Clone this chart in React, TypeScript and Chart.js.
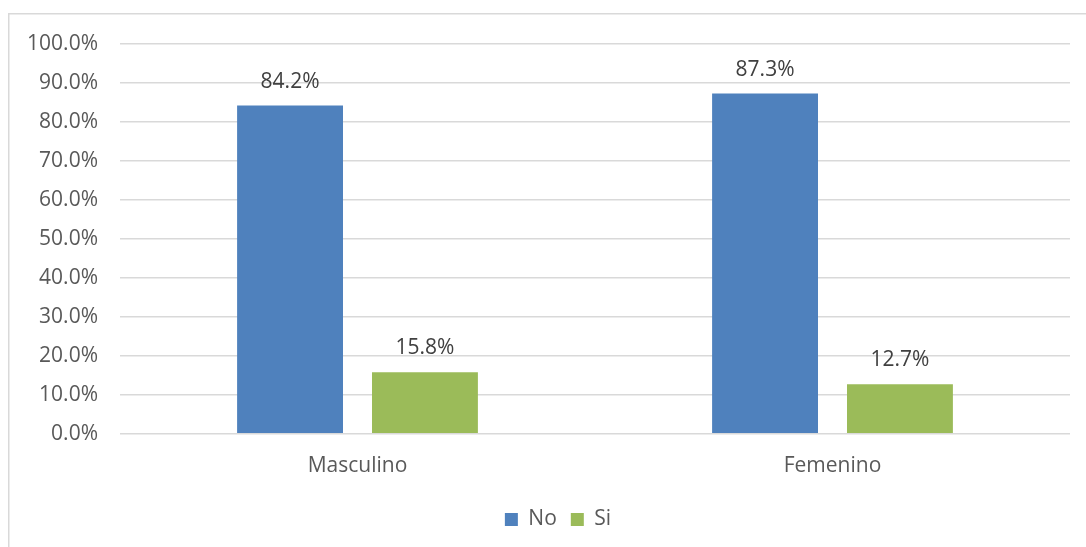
import React, { useEffect, useRef } from "react";
import { Chart, registerables } from "chart.js";

Chart.register(...registerables);

const categories = ["Masculino", "Femenino"];
const seriesNames = ["No", "Si"];
const noValues = [84.2, 87.3];
const siValues = [15.8, 12.7];
const seriesColors = ["#4F81BD", "#9BBB59"];
const yTicks = [0, 10, 20, 30, 40, 50, 60, 70, 80, 90, 100];

const FONT = "'Open Sans', 'DejaVu Sans', sans-serif";

const frame = {
  id: "frame",
  beforeDraw(chart: any) {
    const ctx = chart.ctx;
    ctx.save();
    ctx.fillStyle = "#ffffff";
    ctx.fillRect(0, 0, chart.width, chart.height);
    ctx.strokeStyle = "#d9d9d9";
    ctx.lineWidth = 1.5;
    ctx.strokeRect(8.75, 13.75, chart.width + 20, chart.height + 20);
    ctx.restore();
  },
};

const legendShift = {
  id: "legendShift",
  afterLayout(chart: any) {
    if (chart.legend) {
      chart.legend.left += 23;
      chart.legend.right += 23;
    }
  },
};

const dataLabels = {
  id: "dataLabels",
  afterDatasetsDraw(chart: any) {
    const ctx = chart.ctx;
    ctx.save();
    ctx.font = `21px ${FONT}`;
    ctx.fillStyle = "#404040";
    ctx.textAlign = "center";
    ctx.textBaseline = "alphabetic";
    chart.data.datasets.forEach((ds: any, di: number) => {
      const meta = chart.getDatasetMeta(di);
      meta.data.forEach((bar: any, i: number) => {
        const v = ds.data[i];
        ctx.fillText(v.toFixed(1) + "%", bar.x, bar.y - 18);
      });
    });
    ctx.restore();
  },
};

export default function App() {
  const ref = useRef<HTMLCanvasElement>(null);
  useEffect(() => {
    const chart = new Chart(ref.current!, {
      type: "bar",
      data: {
        labels: categories,
        datasets: [
          { label: seriesNames[0], data: noValues, backgroundColor: seriesColors[0] },
          { label: seriesNames[1], data: siValues, backgroundColor: seriesColors[1] },
        ],
      },
      options: {
        animation: false,
        responsive: false,
        maintainAspectRatio: false,
        devicePixelRatio: 1,
        layout: { padding: { top: 44, right: 16, bottom: 7, left: 0 } },
        datasets: {
          bar: { categoryPercentage: 0.568, barPercentage: 0.785 },
        },
        scales: {
          x: {
            grid: { display: false, drawTicks: false },
            border: { display: false },
            ticks: { color: "#595959", font: { family: FONT, size: 21 }, padding: 20 },
            afterFit(axis: any) {
              axis.height -= 4;
            },
          },
          y: {
            min: 0,
            max: 100,
            afterBuildTicks(axis: any) {
              axis.ticks = yTicks.map((v) => ({ value: v }));
            },
            afterFit(axis: any) {
              axis.width = 120;
            },
            grid: { color: "#d9d9d9", lineWidth: 1.5, drawTicks: false },
            border: { display: false },
            ticks: {
              color: "#595959",
              font: { family: FONT, size: 21 },
              padding: 22,
              callback: (v: any) => Number(v).toFixed(1) + "%",
            },
          },
        },
        plugins: {
          legend: {
            position: "bottom",
            labels: {
              color: "#595959",
              font: { family: FONT, size: 21 },
              boxWidth: 13,
              boxHeight: 13,
              padding: 14,
            },
          },
          tooltip: { enabled: false },
        },
      },
      plugins: [frame, legendShift, dataLabels],
    });
    return () => chart.destroy();
  }, []);
  return (
    <div style={{ position: "fixed", left: 0, top: 0, width: 1086, height: 547 }}>
      <canvas ref={ref} width={1086} height={547} />
    </div>
  );
}
